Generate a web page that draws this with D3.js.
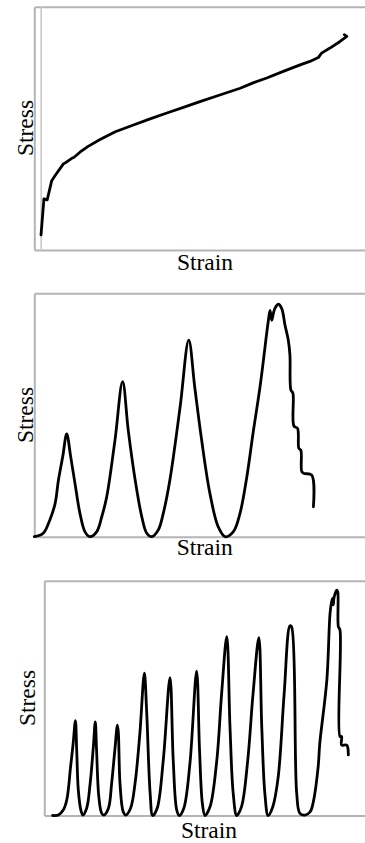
<!DOCTYPE html>
<html>
<head>
<meta charset="utf-8">
<script src="https://cdn.jsdelivr.net/npm/d3@7"></script>
<style>
  body { margin: 0; background: #fff; }
  svg { display: block; }
  .axis path { stroke: #b4b4b4; stroke-width: 2; }
</style>
</head>
<body>
<div id="chart"></div>
<script>
// Data (strain / stress in % of the plot area)
const strain1 = [0.1, 1.0, 2.0, 3.4, 4.4, 7.0, 7.8, 9.6, 10.3, 12.1, 14.5, 18.3, 23, 28.6, 33.5, 38.9, 44, 49.1, 55, 61.5, 65.5, 69.7, 74.8, 80.0, 83.0, 85.6, 86.6, 89.2, 92.3, 94.4, 93.6];
const stress1 = [6.2, 21.0, 20.6, 28.5, 30.5, 35.4, 36.0, 37.7, 38.1, 40.2, 42.5, 45.4, 48.6, 51.4, 53.8, 56.3, 58.6, 61.0, 63.6, 66.5, 68.7, 70.7, 73.4, 76.1, 77.5, 79.1, 80.9, 83.0, 85.7, 87.8, 88.5];

const strain2 = [0, 2.7, 4.7, 6.3, 7.3, 8.6, 9.8, 11.0, 12.3, 13.8, 15.3, 16.8,
  18.9, 20.4, 21.9, 24.4, 26.7, 28.4, 30.5, 32.5, 34.0, 35.5,
  37.5, 39.0, 41.0, 44.1, 46.7, 48.5, 50.6, 53.1, 55.6, 57.7,
  60.2, 62.2, 64.2, 66.2, 68.3,
  70.8, 71.3, 71.8, 72.3, 72.8, 73.8, 74.8, 75.8, 76.8, 77.3, 77.6, 78.2, 78.5, 79.6, 80.0, 80.6, 80.9, 81.6, 83.9, 84.4];
const stress2 = [0, 1.4, 6.9, 13.7, 23.3, 32.9, 42.2, 32.9, 21.9, 9.6, 2.1, 0,
  2.1, 8.2, 16.4, 39.7, 63.7, 43.8, 23.3, 8.2, 1.4, 0,
  2.8, 9.6, 23.3, 53.4, 80.8, 61.6, 39.7, 17.8, 4.1, 0,
  2.1, 9.6, 24, 43, 62,
  89, 93.0, 88.9, 91.8, 93.9, 95.5, 93.8, 87.0, 80.8, 74.6, 60.2, 59.0, 45.5, 44.5, 36.3, 35.6, 26.7, 26.0, 25.3, 12.3];

const strain3 = [2.6, 4.4, 5.9, 7.0, 8.2, 9.0, 9.7, 10.1, 10.6, 11.4, 12.0,
  13.2, 14.3, 15.3, 15.9, 16.3, 17.0, 17.9, 18.6,
  20.0, 21.0, 22.0, 22.8, 23.1, 23.6, 24.6, 25.4,
  26.9, 28.3, 29.8, 31.2, 31.9, 33.0, 33.8,
  35.2, 37.1, 39.2, 40.2, 41.3, 42.1,
  43.5, 45.4, 47.5, 48.4, 49.3, 50.1,
  51.7, 53.8, 55.3, 56.9, 57.9, 58.9, 60.0,
  61.5, 63.4, 65.1, 66.9, 67.8, 68.8, 69.8,
  71.2, 72.9, 74.8, 76.6, 77.1, 78.7, 79.7, 81.3, 82.9, 83.9, 85.4, 85.9, 88.1, 89.1, 89.6, 89.9, 90.1, 90.4, 91.2, 91.5, 91.7, 92.2, 92.2, 92.7, 92.7, 94.3, 94.8];
const stress3 = [0, 0.2, 2.3, 6.6, 20.8, 30.7, 40.4, 27.9, 10.9, 2.3, 0.2,
  3.1, 13.7, 29.3, 39.9, 27.9, 8.0, 0.9, 0.2,
  3.1, 13.7, 27.9, 38.5, 35.0, 13.7, 1.6, 0.2,
  3.1, 13.7, 35.0, 60.6, 44.9, 9.5, 0,
  3.1, 23.6, 58.7, 23.6, 2.3, 0,
  3.1, 22, 61.5, 28, 5, 0,
  3.8, 23.6, 52.0, 76.2, 37.8, 9.5, 0,
  3.8, 23, 52, 75.7, 38, 9, 0,
  3.5, 16, 52, 80.8, 80.4, 9.5, 0.9, 0.2, 1.6, 5.9, 20.8, 30.7, 57.7, 86.1, 91.1, 92.5, 89.7, 93.2, 96.0, 95.3, 80.4, 79.0, 33.6, 33.6, 30.0, 30.0, 25.8];

const xLabels = ["Strain", "Strain", "Strain"];
const yLabels = ["Stress", "Stress", "Stress"];

// Layout
const width = 365, height = 843;
const labelFont = '"Liberation Serif", "Times New Roman", Times, "DejaVu Serif", serif';
const layout = [
  { frameLeft: 34.3, plotLeft: 40.7, top: 6.7, bottom: 250, innerAxis: true, smooth: false, xLab: [205, 270], yLab: [33, 128] },
  { frameLeft: 34.3, plotLeft: 34.3, top: 293.3, bottom: 536.7, innerAxis: false, smooth: true, xLab: [204.7, 555], yLab: [33, 415] },
  { frameLeft: 44.3, plotLeft: 44.3, top: 580.7, bottom: 815.5, innerAxis: false, smooth: true, xLab: [209, 837.5], yLab: [35, 698] }
];
const series = [[strain1, stress1], [strain2, stress2], [strain3, stress3]];

const svg = d3.select("#chart").append("svg")
  .attr("width", width)
  .attr("height", height);

layout.forEach((p, i) => {
  const pts = series[i][0].map((s, j) => ({ strain: s, stress: series[i][1][j] }));

  const x = d3.scaleLinear().domain([0, 100]).range([p.plotLeft, width]);
  const y = d3.scaleLinear().domain([0, 100]).range([p.bottom, p.top]);
  const frameX = d3.scaleLinear().domain([0, 1]).range([p.frameLeft, width + 2]);

  const g = svg.append("g");

  // frame: top edge, left edge, bottom edge
  g.append("g").attr("class", "axis")
    .attr("transform", `translate(0,${p.top})`)
    .call(d3.axisTop(frameX).tickValues([]).tickSizeOuter(0));
  g.append("g").attr("class", "axis")
    .attr("transform", `translate(${p.frameLeft},0)`)
    .call(d3.axisLeft(y).tickValues([]).tickSizeOuter(0));
  g.append("g").attr("class", "axis")
    .attr("transform", `translate(0,${p.bottom})`)
    .call(d3.axisBottom(frameX).tickValues([]).tickSizeOuter(0));

  if (p.innerAxis) {
    g.append("g")
      .attr("transform", `translate(${x(0)},0)`)
      .call(d3.axisLeft(y).tickValues([]).tickSizeOuter(0))
      .select("path").attr("stroke", "#c8c8c8").attr("stroke-width", 1.6);
  }

  const line = d3.line()
    .curve(p.smooth ? d3.curveCatmullRom.alpha(0.5) : d3.curveLinear)
    .x(d => x(d.strain))
    .y(d => y(d.stress));

  g.append("path")
    .datum(pts)
    .attr("fill", "none")
    .attr("stroke", "#000")
    .attr("stroke-width", 2.8)
    .attr("stroke-linejoin", "round")
    .attr("stroke-linecap", "round")
    .attr("d", line);

  g.append("text")
    .attr("x", p.xLab[0])
    .attr("y", p.xLab[1])
    .attr("text-anchor", "middle")
    .style("font-family", labelFont)
    .style("font-size", "23.5px")
    .attr("fill", "#000")
    .text(xLabels[i]);

  g.append("text")
    .attr("transform", `translate(${p.yLab[0]},${p.yLab[1]}) rotate(-90)`)
    .attr("text-anchor", "middle")
    .style("font-family", labelFont)
    .style("font-size", "23.5px")
    .attr("fill", "#000")
    .text(yLabels[i]);
});
</script>
</body>
</html>
